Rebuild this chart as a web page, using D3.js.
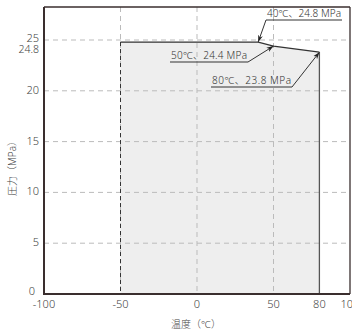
<!DOCTYPE html>
<html><head><meta charset="utf-8">
<script src="https://cdn.jsdelivr.net/npm/d3@7"></script>
<style>body{margin:0;background:#fff}svg{display:block}</style>
</head><body>
<svg id="c" width="352" height="331"></svg>
<script>
const temps = [-50, 40, 50, 80];
const pressures = [24.8, 24.8, 24.4, 23.8];
const xTicks = [-100, -50, 0, 50, 80, 100];
const yTicks = [0, 5, 10, 15, 20, 25];
const xGrid = [-50, 0, 50];
const yGrid = [5, 10, 15, 20, 25];
const notes = [
  {t:40, p:24.8, label:"40℃、24.8 MPa"},
  {t:50, p:24.4, label:"50℃、24.4 MPa"},
  {t:80, p:23.8, label:"80℃、23.8 MPa"}
];
const noteBoxes = [[266,342,20],[170,248,62],[211,292,87]];
const FONT = "'Noto Sans', 'Noto Sans CJK JP', sans-serif";

const svg = d3.select("#c").attr("font-family", FONT);
const x = d3.scaleLinear().domain([-100,100]).range([44,350]);
const y = d3.scaleLinear().domain([0,25]).range([294,40]);
const topY = 7;

// fill
const area = d3.area().x((d,i)=>x(temps[i])).y0(y(0)).y1((d,i)=>y(pressures[i]));
svg.append("path").attr("d", area(temps)).attr("fill","#eeeeee");

// grid
svg.selectAll(".hg").data(yGrid).join("line")
  .attr("x1",x(-100)).attr("x2",x(100)).attr("y1",d=>y(d)).attr("y2",d=>y(d))
  .attr("stroke","#bbb").attr("stroke-dasharray","5,4");
svg.selectAll(".vg").data(xGrid).join("line")
  .attr("x1",d=>x(d)).attr("x2",d=>x(d)).attr("y1",topY).attr("y2",y(0))
  .attr("stroke","#bbb").attr("stroke-dasharray","5,4");

// region edges
svg.append("line").attr("x1",x(-50)).attr("x2",x(-50)).attr("y1",y(pressures[0])).attr("y2",y(0))
  .attr("stroke","#333").attr("stroke-dasharray","4,3");
svg.append("path").attr("d", d3.line().x((d,i)=>x(temps[i])).y((d,i)=>y(pressures[i]))(temps))
  .attr("fill","none").attr("stroke","#333").attr("stroke-width",1.3);
svg.append("line").attr("x1",x(80)).attr("x2",x(80)).attr("y1",y(23.8)).attr("y2",y(0))
  .attr("stroke","#555").attr("stroke-width",1.3);

// frame
svg.append("line").attr("x1",x(-100)).attr("x2",x(100)).attr("y1",topY).attr("y2",topY).attr("stroke","#3a2e2e").attr("stroke-width",1.3);
svg.append("line").attr("x1",x(100)).attr("x2",x(100)).attr("y1",topY).attr("y2",y(0)).attr("stroke","#3a2e2e").attr("stroke-width",1.3);
svg.append("line").attr("x1",x(-100)).attr("x2",x(100)).attr("y1",y(0)).attr("y2",y(0)).attr("stroke","#3a2e2e").attr("stroke-width",2);
svg.append("line").attr("x1",x(-100)).attr("x2",x(-100)).attr("y1",topY).attr("y2",y(0)+1).attr("stroke","#3a2e2e").attr("stroke-width",2);

// tick labels
svg.selectAll(".xt").data(xTicks).join("text")
  .attr("x",d=>x(d)).attr("y",308).attr("text-anchor","middle")
  .attr("font-size",11).attr("font-weight",300).attr("fill","#444").text(d=>d);
svg.selectAll(".yt").data(yTicks).join("text")
  .attr("x",d=>d===0?35:39).attr("y",d=>d===0?295:(d===25?y(d)+2:y(d)+3)).attr("text-anchor","end")
  .attr("font-size",11).attr("font-weight",300).attr("fill","#444").text(d=>d);
svg.append("text").attr("x",39).attr("y",y(24.8)+11).attr("text-anchor","end")
  .attr("font-size",10.5).attr("font-weight",300).attr("fill","#444").text("24.8");

// axis titles
svg.append("text").attr("transform",`translate(16,166) rotate(-90)`).attr("text-anchor","middle")
  .attr("font-size",10).attr("font-weight",300).attr("fill","#444").text("圧力（MPa）");
svg.append("text").attr("x",196).attr("y",328).attr("text-anchor","middle")
  .attr("font-size",10).attr("font-weight",300).attr("fill","#444").text("温度（℃）");

// annotations
const defs = svg.append("defs");
defs.append("marker").attr("id","arr").attr("viewBox","0 0 10 10").attr("refX",10).attr("refY",5)
  .attr("markerWidth",7).attr("markerHeight",7).attr("orient","auto-start-reverse")
  .append("path").attr("d","M0,1.5 L10,5 L0,8.5 L3,5 Z").attr("fill","#222");
notes.forEach((n,i)=>{
  const [a,b,uy] = noteBoxes[i];
  const sx = i===0 ? a : b;
  svg.append("text").attr("x",a+1).attr("y",uy-3).attr("font-size",10).attr("font-weight",300)
    .attr("fill","#333").attr("textLength", b-a-2).attr("lengthAdjust","spacing").text(n.label);
  svg.append("line").attr("x1",a).attr("x2",b).attr("y1",uy).attr("y2",uy).attr("stroke","#333").attr("stroke-width",1);
  svg.append("line").attr("x1",sx).attr("y1",uy).attr("x2",x(n.t)).attr("y2",y(n.p)).attr("stroke","#333").attr("stroke-width",1)
    .attr("marker-end","url(#arr)");
});
</script>
</body></html>
